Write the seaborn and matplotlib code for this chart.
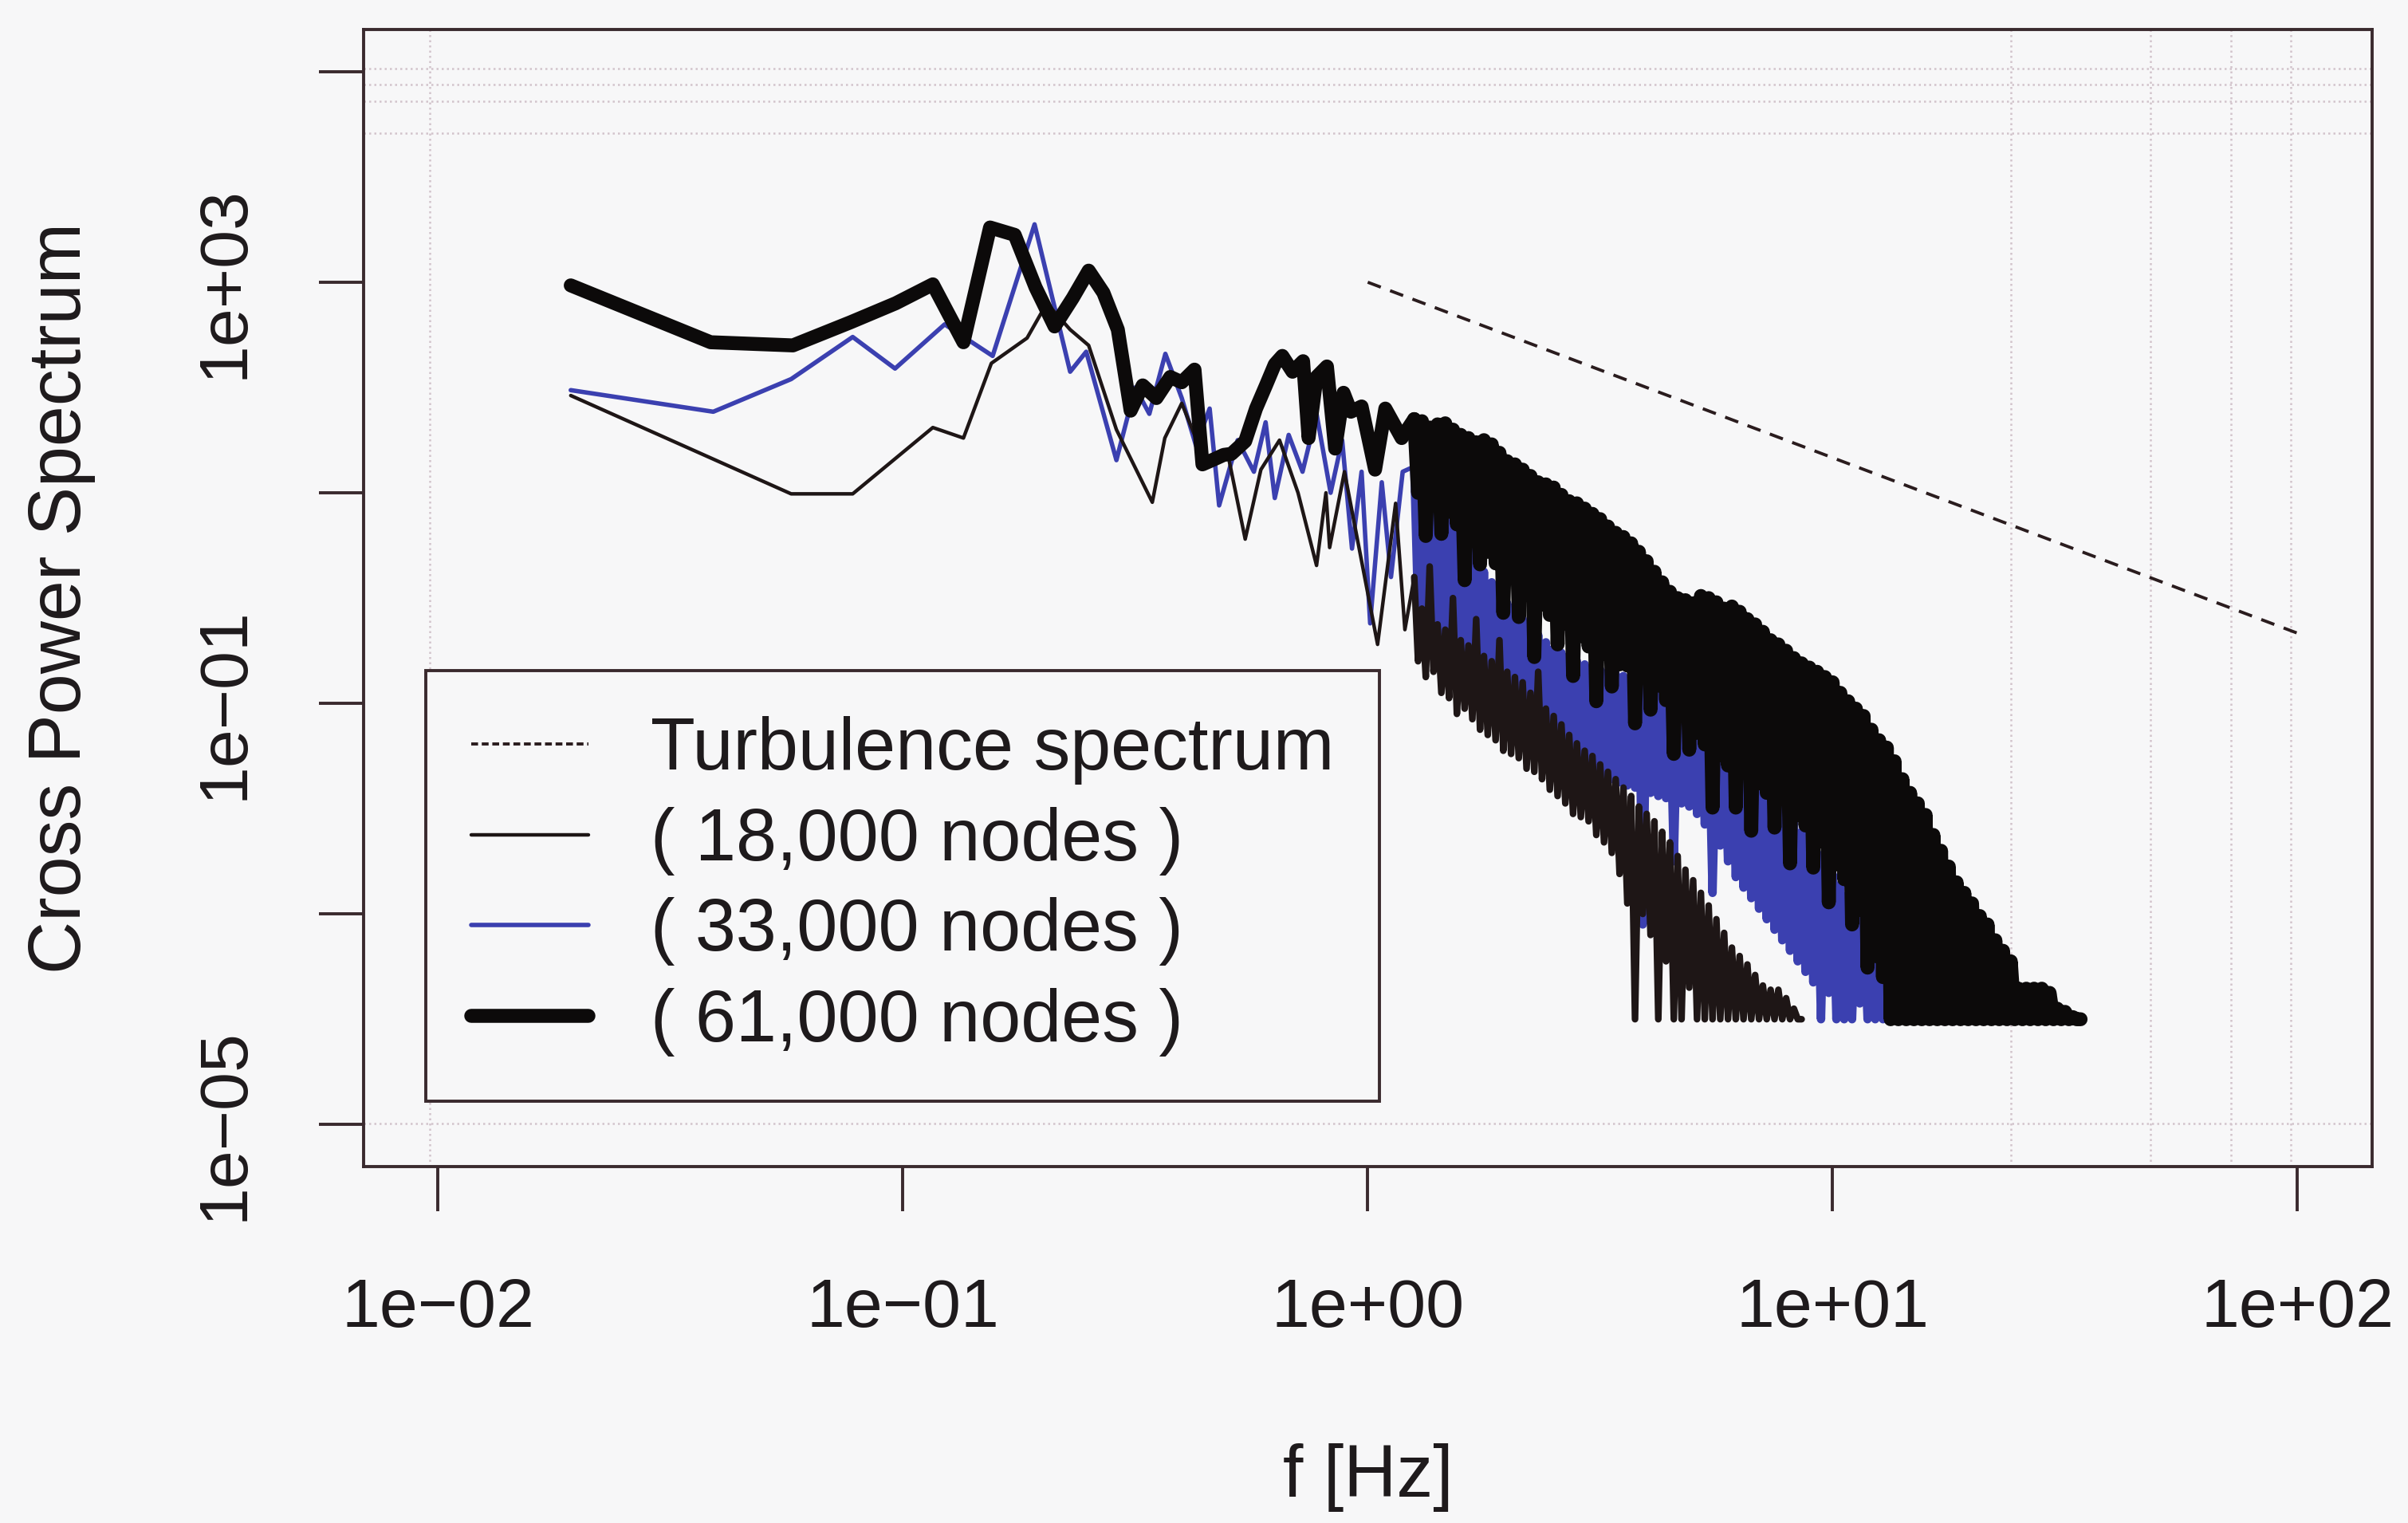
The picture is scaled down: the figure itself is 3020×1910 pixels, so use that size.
import matplotlib
matplotlib.use("Agg")
import matplotlib.pyplot as plt
from matplotlib.lines import Line2D
import numpy as np
import pandas as pd
import seaborn as sns

# ---- values: frequency in Hz, power as log10 ----
# low-frequency part of each spectrum (individual vertices)
f_low_18k = [0.0193, 0.0575, 0.078, 0.116, 0.135, 0.155, 0.185, 0.204, 0.229, 0.251,
             0.288, 0.344, 0.366, 0.398, 0.447, 0.501, 0.545, 0.589, 0.646, 0.708,
             0.776, 0.813, 0.828, 0.891, 1.050, 1.148, 1.202]
lp_low_18k = [1.924, 0.99, 0.99, 1.62, 1.52, 2.23, 2.47, 2.80, 2.55, 2.40,
              1.60, 0.91, 1.52, 1.85, 1.30, 1.35, 0.56, 1.22, 1.50, 1.00,
              0.31, 1.00, 0.48, 1.20, -0.44, 0.90, -0.30]

f_low_33k = [0.0193, 0.0391, 0.0575, 0.078, 0.0962, 0.123, 0.156, 0.192, 0.229, 0.248,
             0.288, 0.316, 0.339, 0.367, 0.398, 0.427, 0.457, 0.479, 0.525, 0.569,
             0.603, 0.631, 0.676, 0.724, 0.776, 0.832, 0.881, 0.925, 0.970, 1.012,
             1.072, 1.122, 1.189]
lp_low_33k = [1.975, 1.77, 2.08, 2.48, 2.18, 2.60, 2.30, 3.55, 2.15, 2.34,
              1.31, 2.00, 1.75, 2.32, 1.90, 1.45, 1.80, 0.88, 1.50, 1.20,
              1.67, 0.95, 1.55, 1.20, 1.75, 1.00, 1.50, 0.47, 1.20, -0.24,
              1.10, 0.20, 1.20]

f_low_61k = [0.0193, 0.0386, 0.058, 0.0772, 0.0965, 0.116, 0.135, 0.154, 0.174, 0.193,
             0.212, 0.232, 0.251, 0.270, 0.290, 0.309, 0.328, 0.351, 0.376, 0.398,
             0.424, 0.441, 0.468, 0.490, 0.509, 0.545, 0.575, 0.604, 0.631, 0.655,
             0.689, 0.726, 0.746, 0.776, 0.817, 0.851, 0.887, 0.920, 0.970, 1.037,
             1.091, 1.183]
lp_low_61k = [2.97, 2.43, 2.40, 2.62, 2.80, 2.98, 2.43, 3.52, 3.45, 2.95,
              2.58, 2.85, 3.11, 2.90, 2.55, 1.78, 2.02, 1.90, 2.10, 2.05,
              2.17, 1.27, 1.32, 1.36, 1.37, 1.49, 1.80, 2.02, 2.22, 2.30,
              2.15, 2.25, 1.52, 2.10, 2.20, 1.42, 1.95, 1.77, 1.82, 1.22,
              1.80, 1.52]

# dense high-frequency part, read as alternating peaks and troughs
f_peak = [1.259, 1.308, 1.359, 1.413, 1.468, 1.525, 1.585, 1.647, 1.711, 1.778,
          1.848, 1.920, 1.995, 2.073, 2.154, 2.239, 2.326, 2.417, 2.512, 2.610,
          2.712, 2.818, 2.929, 3.043, 3.162, 3.286, 3.415, 3.548, 3.687, 3.831,
          3.981, 4.137, 4.299, 4.467, 4.642, 4.823, 5.012, 5.208, 5.412, 5.623,
          5.843, 6.072, 6.310, 6.556, 6.813, 7.079, 7.356, 7.644, 7.943, 8.254,
          8.577, 8.913, 9.261, 9.624, 10.00, 10.39, 10.80, 11.22, 11.66, 12.12,
          12.59, 13.08, 13.59, 14.13, 14.68, 15.25, 15.85, 16.47, 17.11, 17.78,
          18.48, 19.20, 19.95, 20.73, 21.54, 22.39, 23.26, 24.17, 25.12, 26.10,
          27.12, 28.18, 29.29, 30.43, 31.62, 32.86, 34.15]
f_trough = [1.283, 1.333, 1.385, 1.440, 1.496, 1.555, 1.616, 1.679, 1.744, 1.812,
            1.884, 1.957, 2.034, 2.113, 2.196, 2.282, 2.371, 2.464, 2.561, 2.661,
            2.765, 2.873, 2.986, 3.102, 3.223, 3.350, 3.481, 3.617, 3.758, 3.905,
            4.058, 4.217, 4.382, 4.554, 4.732, 4.916, 5.109, 5.309, 5.517, 5.732,
            5.956, 6.190, 6.432, 6.683, 6.945, 7.216, 7.499, 7.792, 8.097, 8.414,
            8.743, 9.086, 9.441, 9.811, 10.19, 10.59, 11.01, 11.44, 11.89, 12.35,
            12.83, 13.33, 13.85, 14.40, 14.96, 15.55, 16.16, 16.79, 17.44, 18.12,
            18.84, 19.57, 20.34, 21.13, 21.96, 22.82, 23.71, 24.64, 25.61, 26.61,
            27.65, 28.73, 29.86, 31.02, 32.23, 33.50]

peaks_18k = [0.20, -0.10, 0.30, -0.25, -0.30, 0.00, -0.40, -0.45, -0.20, -0.55,
             -0.60, -0.40, -0.70, -0.75, -0.80, -0.90, -0.70, -1.05, -1.12, -1.20,
             -1.30, -1.38, -1.45, -1.50, -1.58, -1.65, -1.72, -1.80, -1.88, -1.98,
             -2.05, -2.12, -2.22, -2.32, -2.45, -2.58, -2.68, -2.80, -2.92, -3.05,
             -3.18, -3.32, -3.40, -3.48, -3.58, -3.68, -3.72, -3.72, -3.80, -3.90,
             -4.00]
troughs_18k = [-0.60, -0.75, -0.70, -0.90, -0.95, -1.10, -1.05, -1.15, -1.25, -1.30,
               -1.35, -1.45, -1.48, -1.52, -1.62, -1.65, -1.72, -1.82, -1.88, -1.95,
               -2.05, -2.08, -2.12, -2.25, -2.32, -2.42, -2.62, -2.90, -4.00, -3.00,
               -3.20, -4.00, -3.45, -4.00, -4.00, -3.70, -4.00, -4.00, -4.00, -4.00,
               -4.00, -4.00, -4.00, -4.00, -4.00, -4.00, -4.00, -4.00, -4.00, -4.00]

peaks_33k = [1.25, 1.15, 1.05, 0.95, 0.85, 0.72, 0.60, 0.48, 0.38, 0.25,
             0.15, 0.05, -0.05, -0.12, -0.20, -0.28, -0.35, -0.42, -0.48, -0.52,
             -0.56, -0.60, -0.63, -0.66, -0.68, -0.70, -0.72, -0.74, -0.76, -0.78,
             -0.80, -0.84, -0.88, -0.92, -0.96, -1.00, -1.05, -1.10, -1.16, -1.22,
             -1.30, -1.38, -1.46, -1.54, -1.62, -1.72, -1.82, -1.92, -2.02, -2.12,
             -2.22, -2.32, -2.42, -2.52, -2.62, -2.72, -2.82, -2.92, -3.02, -3.15,
             -3.28, -3.40, -3.50, -3.65, -3.80, -4.00]
troughs_33k = [-0.10, -0.20, -0.28, -0.35, -0.45, -0.52, -0.60, -0.65, -0.72, -0.78,
               -0.85, -0.92, -0.98, -1.05, -1.10, -1.18, -1.25, -1.30, -1.38, -1.42,
               -1.48, -1.55, -1.60, -1.65, -1.70, -1.72, -1.75, -1.78, -1.80, -3.10,
               -1.85, -1.88, -1.90, -2.50, -1.95, -1.98, -2.05, -2.15, -2.80, -2.35,
               -2.50, -2.65, -2.75, -2.85, -2.95, -3.05, -3.15, -3.25, -3.35, -3.45,
               -3.55, -3.65, -4.00, -3.75, -4.00, -4.00, -4.00, -3.85, -4.00, -4.00,
               -4.00, -4.00, -4.00, -4.00, -4.00]

peaks_61k = [1.70, 1.68, 1.62, 1.65, 1.66, 1.60, 1.55, 1.52, 1.48, 1.50,
             1.46, 1.38, 1.30, 1.27, 1.22, 1.16, 1.10, 1.08, 1.05, 0.98,
             0.92, 0.90, 0.85, 0.80, 0.75, 0.68, 0.62, 0.58, 0.52, 0.44,
             0.35, 0.25, 0.15, 0.06, 0.00, -0.02, -0.05, 0.02, 0.00, -0.04,
             -0.10, -0.08, -0.13, -0.20, -0.25, -0.32, -0.40, -0.44, -0.50, -0.57,
             -0.62, -0.66, -0.70, -0.75, -0.80, -0.90, -0.98, -1.05, -1.12, -1.25,
             -1.35, -1.42, -1.55, -1.72, -1.85, -1.95, -2.06, -2.25, -2.40, -2.55,
             -2.70, -2.80, -2.90, -3.02, -3.10, -3.25, -3.35, -3.45, -3.71, -3.71,
             -3.71, -3.71, -3.75, -3.90, -3.93, -3.98, -4.00]
troughs_61k = [1.00, 0.59, 0.92, 0.61, 0.82, 0.70, 0.17, 0.60, 0.32, 0.44,
               0.33, -0.14, 0.22, -0.18, 0.05, -0.56, -0.06, -0.16, -0.44, -0.24,
               -0.74, -0.36, -0.46, -0.98, -0.53, -0.84, -0.63, -0.64, -1.19, -0.71,
               -1.06, -0.83, -0.97, -1.48, -1.08, -1.44, -1.28, -1.39, -1.99, -1.49,
               -1.59, -1.99, -1.66, -2.21, -1.76, -1.85, -2.18, -1.91, -2.52, -2.06,
               -2.16, -2.56, -2.31, -2.89, -2.53, -2.67, -3.10, -2.96, -3.51, -3.40,
               -3.60, -4.00, -4.00, -4.00, -4.00, -4.00, -4.00, -4.00, -4.00, -4.00,
               -4.00, -4.00, -4.00, -4.00, -4.00, -4.00, -4.00, -4.00, -4.00, -4.00,
               -4.00, -4.00, -4.00, -4.00, -4.00, -4.00]

# reference turbulence spectrum (dashed line)
turb_f = [1.0, 100.0]
turb_p = [1.0e3, 4.64e-1]

labels = ["Turbulence spectrum", "( 18,000 nodes )", "( 33,000 nodes )", "( 61,000 nodes )"]

x_ticks = [1e-2, 1e-1, 1e0, 1e1, 1e2]
x_ticklabels = ["1e\u221202", "1e\u221201", "1e+00", "1e+01", "1e+02"]
y_ticks = [1e5, 1e3, 1e1, 1e-1, 1e-3, 1e-5]
y_ticklabels = ["", "1e+03", "", "1e\u221201", "", "1e\u221205"]

# faint dotted rules visible on the scanned page
rule_y = [1.07e5, 7.6e4, 5.2e4, 2.6e4, 1.02e-5]
rule_x = [0.0096, 24.2, 48.3, 71.8, 96.6]

BG = "#f7f7f8"
FRAME = "#3a2a2e"
TXT = "#1e1a1c"
C18 = "#1e1616"
C33 = "#3b40b0"
C61 = "#0c0a0a"
# (legend / sparse part, dense part) line widths
LW18, LW18_DENSE = 1.6, 3.0
LW33, LW33_DENSE = 2.0, 3.8
LW61 = 6.3


def spectrum(f_low, lp_low, peaks, troughs):
    f, lp = [], []
    for i, p in enumerate(peaks):
        f.append(f_peak[i])
        lp.append(p)
        if i < len(troughs):
            f.append(f_trough[i])
            lp.append(troughs[i])
    low = pd.DataFrame({"f": list(f_low) + f[:1],
                        "power": np.power(10.0, list(lp_low) + lp[:1])})
    dense = pd.DataFrame({"f": f, "power": np.power(10.0, lp)})
    return low, dense


low18, dense18 = spectrum(f_low_18k, lp_low_18k, peaks_18k, troughs_18k)
low33, dense33 = spectrum(f_low_33k, lp_low_33k, peaks_33k, troughs_33k)
low61, dense61 = spectrum(f_low_61k, lp_low_61k, peaks_61k, troughs_61k)

sns.set_theme(style="white")
plt.rcParams["font.family"] = ["Liberation Sans", "DejaVu Sans"]

fig = plt.figure(figsize=(15.1, 9.55), dpi=200, facecolor=BG)
ax = fig.add_axes([0.151, 0.234, 0.834, 0.7466])
ax.set_facecolor(BG)
ax.set_xscale("log")
ax.set_yscale("log")
ax.set_xlim(10 ** -2.16, 10 ** 2.16)
ax.set_ylim(10 ** -5.4, 10 ** 5.4)

for y in rule_y:
    ax.axhline(y, color="#d2c4cc", linestyle=(0, (1, 1.6)), linewidth=0.9, zorder=0)
for x in rule_x:
    ax.axvline(x, color="#d2c4cc", linestyle=(0, (1, 1.6)), linewidth=0.9, zorder=0)

kw = dict(x="f", y="power", ax=ax, estimator=None, sort=False, legend=False)
sns.lineplot(data=low33, color=C33, linewidth=LW33, **kw)
sns.lineplot(data=dense33, color=C33, linewidth=LW33_DENSE, **kw)
sns.lineplot(data=low18, color=C18, linewidth=LW18, **kw)
sns.lineplot(data=dense18, color=C18, linewidth=LW18_DENSE, **kw)
sns.lineplot(data=low61, color=C61, linewidth=LW61, **kw)
sns.lineplot(data=dense61, color=C61, linewidth=LW61, **kw)
sns.lineplot(x=turb_f, y=turb_p, ax=ax, color="#2a1c1e", linewidth=1.4,
             linestyle=(0, (4.5, 3.2)), estimator=None, sort=False, legend=False)

ax.set_xticks(x_ticks)
ax.set_xticklabels(x_ticklabels)
ax.set_yticks(y_ticks)
ax.set_yticklabels(y_ticklabels)
ax.minorticks_off()
ax.tick_params(axis="both", which="major", direction="out", length=20, width=1.4,
               color=FRAME, labelcolor=TXT, labelsize=31, left=True, bottom=True)
ax.tick_params(axis="x", pad=30)
ax.tick_params(axis="y", pad=28)
plt.setp(ax.get_yticklabels(), rotation=90, va="center")

for s in ax.spines.values():
    s.set_color(FRAME)
    s.set_linewidth(1.4)

ax.set_xlabel("f [Hz]", fontsize=33, color=TXT)
ax.set_ylabel("Cross Power Spectrum", fontsize=33, color=TXT)
ax.xaxis.set_label_coords(0.5, -0.2435)
ax.yaxis.set_label_coords(-0.1335, 0.5)

handles = [
    Line2D([], [], color="#2a1c1e", linewidth=1.4, linestyle=(0, (2.2, 1.2))),
    Line2D([], [], color=C18, linewidth=LW18),
    Line2D([], [], color=C33, linewidth=LW33),
    Line2D([], [], color=C61, linewidth=LW61),
]
leg = ax.legend(handles, labels, loc="upper left", bbox_to_anchor=(0.031, 0.436),
                fontsize=33, frameon=True, fancybox=False, edgecolor=FRAME,
                facecolor=BG, framealpha=1, borderpad=0.62, handlelength=1.6,
                handletextpad=0.85, labelspacing=0.3, borderaxespad=0)
leg.get_frame().set_linewidth(1.4)
for t in leg.get_texts():
    t.set_color(TXT)

fig.savefig("out.png", dpi=200, facecolor=BG)
